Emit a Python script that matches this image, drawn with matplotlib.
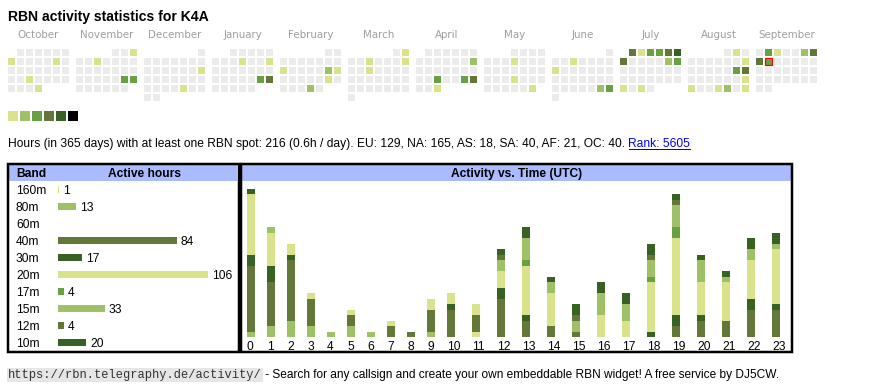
import datetime as dt
import numpy as np
import matplotlib
matplotlib.use("Agg")
import matplotlib.pyplot as plt
from matplotlib.patches import Rectangle
from matplotlib.transforms import blended_transform_factory

# ---------------- data ----------------
title = "RBN activity statistics for K4A"
months = ["October", "November", "December", "January", "February", "March",
          "April", "May", "June", "July", "August", "September"]
start_year, start_month = 2024, 10
today = "2025-09-09"

level_colors = ["#ebebeb", "#dae28c", "#9ec168", "#68a044", "#637838", "#386224", "#000000"]

active_days = {
    "2024-10-07": 1, "2024-10-12": 1, "2024-10-23": 1, "2024-10-31": 1,
    "2024-11-03": 1, "2024-11-06": 1, "2024-11-23": 3, "2024-11-24": 3,
    "2024-12-15": 1, "2024-12-27": 1,
    "2025-01-09": 1, "2025-01-12": 1, "2025-01-25": 3, "2025-01-26": 4,
    "2025-02-10": 1, "2025-02-15": 2, "2025-02-16": 1, "2025-02-22": 1, "2025-02-27": 2,
    "2025-03-02": 1, "2025-03-05": 1, "2025-03-09": 1, "2025-03-12": 1,
    "2025-04-13": 2, "2025-04-23": 3, "2025-04-26": 3, "2025-04-27": 4, "2025-04-30": 1,
    "2025-05-08": 1, "2025-05-22": 1, "2025-05-31": 1,
    "2025-06-04": 1, "2025-06-09": 1, "2025-06-28": 2, "2025-06-29": 3,
    "2025-07-01": 4, "2025-07-02": 1, "2025-07-03": 3, "2025-07-04": 3, "2025-07-05": 4,
    "2025-07-06": 5, "2025-07-07": 4, "2025-07-12": 2, "2025-07-13": 3, "2025-07-28": 1,
    "2025-07-30": 1,
    "2025-08-02": 1, "2025-08-10": 1, "2025-08-16": 3, "2025-08-17": 4, "2025-08-24": 1,
    "2025-08-25": 1, "2025-08-28": 1, "2025-08-29": 2, "2025-08-31": 1,
    "2025-09-02": 3, "2025-09-03": 1, "2025-09-06": 2, "2025-09-07": 4, "2025-09-08": 4,
    "2025-09-09": 3,
}

summary_text = ("Hours (in 365 days) with at least one RBN spot: 216 (0.6h / day). "
                "EU: 129, NA: 165, AS: 18, SA: 40, AF: 21, OC: 40.")
rank_text = "Rank: 5605"

bands = ["160m", "80m", "60m", "40m", "30m", "20m", "17m", "15m", "12m", "10m"]
band_hours = [1, 13, 0, 84, 17, 106, 4, 33, 4, 20]
band_colors = ["#dae28c", "#9ec168", "#68a044", "#637838", "#386224",
               "#dae28c", "#68a044", "#9ec168", "#637838", "#386224"]

hour_labels = [str(h) for h in range(24)]
hourly = {
    "160m": [0,0,0,0,0,0,0,0,0,0,0,1,0,0,0,0,0,0,0,0,0,0,0,0],
    "80m":  [1,2,3,2,1,2,1,0,0,1,0,0,0,0,0,0,0,0,0,0,0,0,0,0],
    "60m":  [0]*24,
    "40m":  [12,8,11,5,0,2,0,2,1,4,5,3,7,3,2,1,0,0,0,2,3,3,5,5],
    "30m":  [2,3,1,0,0,0,0,0,0,0,1,0,2,1,0,0,0,0,1,2,1,0,2,1],
    "20m":  [11,6,2,1,0,1,0,1,0,2,2,2,3,9,6,0,4,3,9,14,6,7,7,10],
    "17m":  [0,0,0,0,0,0,0,0,0,0,0,0,0,1,0,0,0,0,1,2,0,0,0,0],
    "15m":  [0,1,0,0,0,0,0,0,0,0,0,0,2,4,2,2,4,3,3,4,4,1,2,1],
    "12m":  [0,0,0,0,0,0,0,0,0,0,0,0,1,0,0,1,0,0,1,1,0,0,0,0],
    "10m":  [1,0,0,0,0,0,0,0,0,0,0,0,1,2,1,2,2,2,2,1,1,1,2,2],
}

footer_url = "https://rbn.telegraphy.de/activity/"
footer_text = " - Search for any callsign and create your own embeddable RBN widget! A free service by DJ5CW."

# ---------------- layout ----------------
W, H, DPI = 870, 390, 100
PT = 72 / DPI  # points per pixel
plt.rcParams["font.family"] = ["Liberation Sans", "DejaVu Sans"]

fig = plt.figure(figsize=(W / DPI, H / DPI), dpi=DPI)
fig.patch.set_facecolor("white")
bg = fig.add_axes([0, 0, 1, 1])
bg.set_xlim(0, W)
bg.set_ylim(H, 0)
bg.axis("off")


def px_axes(x0, y0, x1, y1):
    return fig.add_axes([x0 / W, 1 - y1 / H, (x1 - x0) / W, (y1 - y0) / H])


# title
bg.text(8, 21, title, fontsize=14 * PT, weight="bold", va="baseline", ha="left")

# calendar
cell, pitch, month_pitch = 7, 9, 68
cal_x0, cal_y0 = 8, 49
today_d = dt.date.fromisoformat(today)
for m, mname in enumerate(months):
    yr = start_year + (start_month - 1 + m) // 12
    mo = (start_month - 1 + m) % 12 + 1
    first = dt.date(yr, mo, 1)
    nxt = dt.date(yr + mo // 12, mo % 12 + 1, 1)
    ndays = (nxt - first).days
    w0 = first.weekday()
    bx = cal_x0 + month_pitch * m
    bg.text(bx + (7 * pitch - 2) / 2, 38.5, mname, fontsize=10.2 * PT, color="#9e9e9e",
            ha="center", va="baseline", family="DejaVu Sans")
    for d in range(1, ndays + 1):
        date = dt.date(yr, mo, d)
        r, c = divmod(w0 + d - 1, 7)
        lvl = active_days.get(date.isoformat(), 0)
        is_today = date == today_d
        bg.add_patch(Rectangle((bx + pitch * c, cal_y0 + pitch * r), cell, cell,
                               facecolor=level_colors[lvl],
                               edgecolor="#ff0000" if is_today else "none",
                               lw=1.2 * PT if is_today else 0))

# legend squares
for i, col in enumerate(level_colors[1:]):
    bg.add_patch(Rectangle((8 + 12 * i, 111), 10, 10, facecolor=col, edgecolor="none"))

# summary text
fig.canvas.draw()
rend = fig.canvas.get_renderer()
t1 = bg.text(8, 147, summary_text + " ", fontsize=12.0 * PT, va="baseline", ha="left")
bb = t1.get_window_extent(rend)
x_rank = bg.transData.inverted().transform((bb.x1, bb.y0))[0]
t2 = bg.text(x_rank, 147, rank_text, fontsize=12.0 * PT, va="baseline", ha="left", color="#0000ee")
bb2 = t2.get_window_extent(rend)
x_end = bg.transData.inverted().transform((bb2.x1, bb2.y0))[0]
bg.plot([x_rank, x_end], [148.5, 148.5], color="#0000ee", lw=1 * PT)

# table frames and headers
header_blue = "#aabbff"
bg.add_patch(Rectangle((9.5, 165), 228, 15.8, facecolor=header_blue, edgecolor="none"))
bg.add_patch(Rectangle((242, 165), 549, 15.8, facecolor=header_blue, edgecolor="none"))
bg.add_patch(Rectangle((8.3, 163.7), 230.5, 188.3, facecolor="none", edgecolor="black", lw=2.5 * PT))
bg.add_patch(Rectangle((241, 163.7), 551, 188.3, facecolor="none", edgecolor="black", lw=2.5 * PT))
hdr_kw = dict(fontsize=12 * PT, weight="bold", va="baseline")
bg.text(16, 177, "Band", ha="left", **hdr_kw)
bg.text(144.5, 177, "Active hours", ha="center", **hdr_kw)
bg.text(516.5, 177, "Activity vs. Time (UTC)", ha="center", **hdr_kw)

# band bar chart
ax1 = px_axes(58, 180.8, 208, 350.8)
ypos = np.arange(len(bands))
ax1.barh(ypos, band_hours, height=7 / 17, color=band_colors, linewidth=0)
ax1.set_xlim(0, max(band_hours))
ax1.set_ylim(len(bands) - 0.5, -0.5)
ax1.axis("off")
lab_tr = blended_transform_factory(bg.transData, ax1.transData)
for i, (b, v) in enumerate(zip(bands, band_hours)):
    ax1.annotate(b, (16, i), xycoords=lab_tr, xytext=(0, -4.3 * PT), textcoords="offset points",
                 fontsize=12 * PT, va="baseline", ha="left", annotation_clip=False)
    if v > 0:
        ax1.annotate(str(v), (v, i), xytext=(4 * PT, -4.3 * PT), textcoords="offset points",
                     fontsize=12 * PT, va="baseline", ha="left", annotation_clip=False)

# hourly stacked bars
ax2 = px_axes(241, 189, 791, 337)
col_w = np.array([15 + 5 * len(h) for h in hour_labels], dtype=float)
col_left = np.concatenate([[0.0], np.cumsum(col_w)[:-1]])
bar_x = col_left + 6
bottom = np.zeros(len(hour_labels))
for b, col in zip(bands, band_colors):
    vals = np.array(hourly[b], dtype=float)
    ax2.bar(bar_x, vals, width=8, bottom=bottom, color=col, align="edge", linewidth=0)
    bottom += vals
ax2.set_xlim(0, col_w.sum())
ax2.set_ylim(0, bottom.max())
ax2.axis("off")
for x, lab in zip(bar_x, hour_labels):
    ax2.annotate(lab, (x, 0), xytext=(0, -13 * PT), textcoords="offset points",
                 fontsize=12 * PT, va="baseline", ha="left", annotation_clip=False)

# footer
f1 = bg.text(8, 378, footer_url, fontsize=12 * PT, family="Liberation Mono", va="baseline",
             ha="left", color="#333333",
             bbox=dict(facecolor="#e6e6e6", edgecolor="none", pad=1.0))
fb = f1.get_window_extent(rend)
x_f = bg.transData.inverted().transform((fb.x1, fb.y0))[0]
bg.text(x_f, 378, footer_text, fontsize=11.9 * PT, va="baseline", ha="left")

fig.savefig("out.png", dpi=DPI, facecolor="white")
